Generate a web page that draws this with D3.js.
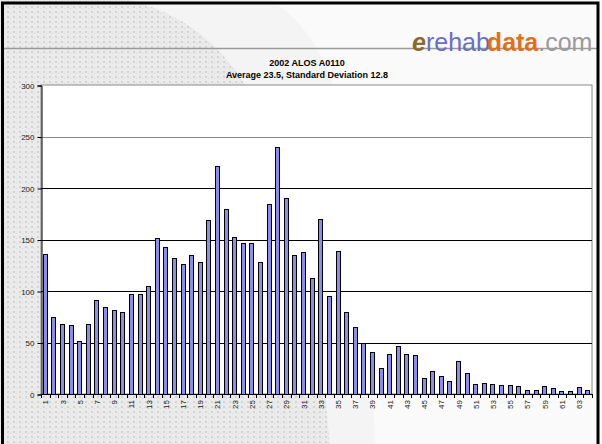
<!DOCTYPE html>
<html><head><meta charset="utf-8">
<script src="https://cdn.jsdelivr.net/npm/d3@7"></script>
<style>
html,body{margin:0;padding:0;background:#fff;}
svg{display:block;font-family:"Liberation Sans",Arial,sans-serif;}
</style></head>
<body>
<script>
// ---- data ----
const categories = d3.range(1, 65);
const values = [136,75,68,67,51,68,91,84,82,80,97,97,105,151,143,132,126,135,128,169,
  221,180,152,147,147,128,184,240,190,135,138,113,170,95,139,80,65,50,41,25,
  39,47,39,38,16,22,17,13,32,20,10,11,10,9,9,8,4,4,8,6,3,3,7,4];
const yTicks = [0,50,100,150,200,250,300];
const xTickLabels = categories.filter(d => d % 2 === 1);
const titleLines = ["2002 ALOS A0110", "Average 23.5, Standard Deviation 12.8"];

const W = 602, H = 444;
const svg = d3.select("body").append("svg").attr("width", W).attr("height", H);
const defs = svg.append("defs");
const pat = defs.append("pattern").attr("id","dots").attr("width",6).attr("height",5)
  .attr("patternUnits","userSpaceOnUse");
pat.append("rect").attr("x",1).attr("y",1).attr("width",2).attr("height",2).attr("fill","#c8c8c8");
pat.append("rect").attr("x",4).attr("y",3).attr("width",1).attr("height",1).attr("fill","#d0d0d0");

// background watermark
svg.append("rect").attr("width",W).attr("height",H).attr("fill","#ebebeb");
svg.append("rect").attr("width",W).attr("height",H).attr("fill","url(#dots)").attr("opacity",0.7);
svg.append("path").attr("d","M130,0 C240,30 300,120 330,444 L602,444 L602,0 Z").attr("fill","#f4f4f4");
svg.append("path").attr("d","M270,0 C340,40 365,150 375,444 L602,444 L602,0 Z").attr("fill","#fafafa");
svg.append("line").attr("x1",4).attr("x2",598).attr("y1",48.5).attr("y2",48.5).attr("stroke","#9a9a9a").attr("stroke-width",1.5);

// frame
svg.append("rect").attr("x",2.5).attr("y",3).attr("width",595.5).attr("height",H+10)
  .attr("fill","none").attr("stroke","#000").attr("stroke-width",3);

// logo
const logo = svg.append("text").attr("x",412).attr("y",51).attr("font-size",25)
  .attr("font-family","'Liberation Sans',Arial,sans-serif");
logo.append("tspan").text("e").attr("fill","#8a6a2a").attr("font-style","italic").attr("font-weight","bold");
logo.append("tspan").text("rehab").attr("fill","#6b6bc8");
logo.append("tspan").text("data").attr("fill","#e07020").attr("font-weight","bold").attr("dx",-3);
logo.append("tspan").text(".com").attr("fill","#9a9a9a");

// titles
svg.append("text").attr("x",307).attr("y",66).attr("text-anchor","middle")
  .attr("font-size",9).attr("font-weight","bold").attr("fill","#000").text(titleLines[0]);
svg.append("text").attr("x",307).attr("y",78).attr("text-anchor","middle")
  .attr("font-size",9).attr("font-weight","bold").attr("fill","#000").text(titleLines[1]);

// plot area
const x0 = 41, x1 = 592, yT = 85, yB = 394;
const x = d3.scaleBand().domain(categories).range([x0, x1]).paddingInner(0.42).paddingOuter(0.21);
const y = d3.scaleLinear().domain([0, 300]).range([yB, yT]);

svg.append("rect").attr("x",x0).attr("y",yT).attr("width",x1-x0).attr("height",yB-yT)
  .attr("fill","#fff").attr("stroke","#8a8a8a").attr("stroke-width",1);

svg.append("g").selectAll("line").data(yTicks.filter(v => v > 0 && v < 300)).join("line")
  .attr("x1",x0).attr("x2",x1)
  .attr("y1",d => Math.round(y(d))+0.5).attr("y2",d => Math.round(y(d))+0.5)
  .attr("stroke",d => d >= 250 ? "#8a8a8a" : "#000").attr("stroke-width",1);

// bars
svg.append("g").selectAll("rect").data(values).join("rect")
  .attr("x",(d,i) => Math.round(x(categories[i]))+0.5)
  .attr("y",d => Math.round(y(d))+0.5)
  .attr("width",Math.round(x.bandwidth())-1)
  .attr("height",d => Math.round(yB) - Math.round(y(d)))
  .attr("fill","#8c8cf0").attr("stroke","#000").attr("stroke-width",1);

// y axis
const yAxis = svg.append("g").attr("transform",`translate(${x0+0.5},0.5)`)
  .call(d3.axisLeft(y).tickValues(yTicks).tickSize(4).tickPadding(3));
yAxis.select(".domain").attr("stroke","#000");
yAxis.selectAll("text").attr("font-size",8).attr("fill","#222")
  .attr("font-family","'Liberation Sans',Arial,sans-serif");

// x axis: ticks between categories
const boundaries = d3.range(0, 65).map(i => x0 + i*((x1-x0)/64));
const xg = svg.append("g");
xg.append("line").attr("x1",x0).attr("x2",x1).attr("y1",yB+0.5).attr("y2",yB+0.5).attr("stroke","#000");
xg.selectAll("line.tk").data(boundaries).join("line").attr("class","tk")
  .attr("x1",d => Math.round(d)+0.5).attr("x2",d => Math.round(d)+0.5)
  .attr("y1",yB).attr("y2",yB+4).attr("stroke","#000");
xg.selectAll("text").data(xTickLabels).join("text")
  .attr("transform",d => `translate(${x(d)+x.bandwidth()/2+3},${yB+6}) rotate(-90)`)
  .attr("text-anchor","end").attr("font-size",8).attr("fill","#222").text(d => d);
</script>
</body></html>
